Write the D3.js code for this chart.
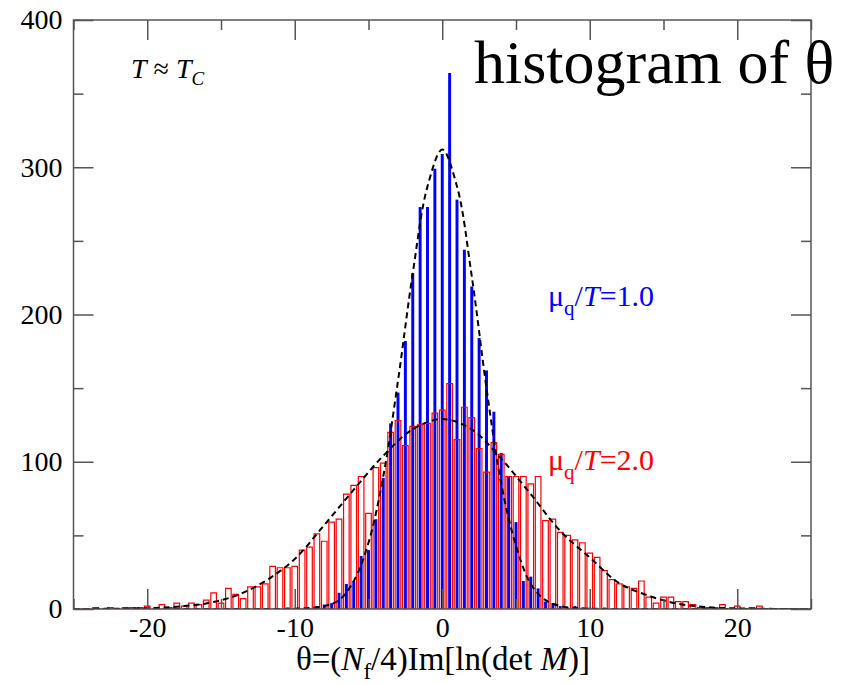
<!DOCTYPE html>
<html>
<head>
<meta charset="utf-8">
<script src="https://cdn.jsdelivr.net/npm/d3@7"></script>
<style>
  body { margin: 0; background: #fff; }
  svg { display: block; }
  text { font-family: "Liberation Serif", "Times New Roman", serif; }
</style>
</head>
<body>
<svg id="chart" width="854" height="684"></svg>
<script>
// Histogram bin centres (theta), shared by both ensembles
const thetaBins = [
  -24.5, -24, -23.5, -23, -22.5, -22, -21.5, -21, -20.5, -20,
  -19.5, -19, -18.5, -18, -17.5, -17, -16.5, -16, -15.5, -15,
  -14.5, -14, -13.5, -13, -12.5, -12, -11.5, -11, -10.5, -10,
  -9.5, -9, -8.5, -8, -7.5, -7, -6.5, -6, -5.5, -5,
  -4.5, -4, -3.5, -3, -2.5, -2, -1.5, -1, -0.5, 0,
  0.5, 1, 1.5, 2, 2.5, 3, 3.5, 4, 4.5, 5,
  5.5, 6, 6.5, 7, 7.5, 8, 8.5, 9, 9.5, 10,
  10.5, 11, 11.5, 12, 12.5, 13, 13.5, 14, 14.5, 15,
  15.5, 16, 16.5, 17, 17.5, 18, 18.5, 19, 19.5, 20,
  20.5, 21, 21.5, 22, 22.5, 23, 23.5, 24, 24.5
];

// mu_q/T = 1.0 counts (filled blue bars)
const countsMu1 = [
  0, 0, 0, 0, 0, 0, 0, 0, 0, 0,
  0, 0, 0, 0, 0, 0, 0, 0, 0, 0,
  0, 0, 0, 0, 0, 0, 0, 0, 1, 0,
  0, 0, 2, 3, 4, 11, 17, 19, 36, 40,
  61, 89, 126, 147, 182, 228, 273, 273, 299, 309,
  364, 278, 244, 219, 184, 162, 134, 106, 90, 59,
  19, 22, 14, 5, 4, 2, 1, 2, 1, 1,
  0, 1, 0, 0, 0, 0, 0, 0, 0, 0,
  0, 0, 0, 0, 0, 0, 0, 0, 0, 0,
  0, 0, 0, 0, 0, 0, 0, 0, 0
];

// mu_q/T = 2.0 counts (open red bars)
const countsMu2 = [
  0, 0, 1, 0, 1, 0, 1, 1, 1, 2,
  0, 3, 1, 4, 2, 4, 3, 6, 11, 4,
  14, 10, 7, 15, 15, 17, 29, 28, 28, 29,
  40, 42, 51, 46, 59, 61, 78, 84, 90, 65,
  96, 99, 120, 128, 111, 124, 125, 126, 133, 135,
  153, 115, 137, 130, 109, 93, 113, 105, 90, 90,
  90, 85, 90, 60, 61, 52, 50, 47, 45, 38,
  35, 26, 20, 17, 15, 14, 19, 8, 4, 8,
  8, 5, 5, 3, 1, 1, 1, 3, 0, 2,
  0, 1, 2, 0, 0, 0, 0, 0, 0
];

// Gaussian fit curves (dashed), sampled along theta
const fitThetaMu1 = [-25, -12, -10, -9, -8, -7, -6, -5, -4, -3, -2, -1, 0, 1, 2, 3, 4, 5, 6, 7, 8, 9, 10, 12, 25];
const fitMu1      = [0, 0, 0.2, 0.6, 2, 6, 19, 45, 90, 155, 228, 287, 312, 287, 226, 150, 85, 43, 17, 6, 2, 0.6, 0.2, 0, 0];
const fitThetaMu2 = [-25, -22, -20, -18, -16, -14, -12, -10, -8, -6, -4, -2, 0, 2, 4, 6, 8, 10, 12, 14, 16, 18, 20, 22, 25];
const fitMu2      = [0, 0.2, 0.6, 1.6, 3.8, 9, 19, 34, 57, 81, 104, 122, 129, 122, 102, 78, 53, 35, 17.5, 9, 3.5, 1.2, 0.4, 0.1, 0];

const xMajor = [-20, -10, 0, 10, 20];
const xMinor = [-25, -15, -5, 5, 15, 25];
const yMajor = [0, 100, 200, 300, 400];
const yMinor = [50, 150, 250, 350];

const svg = d3.select("#chart");
const plot = { left: 73.5, right: 811, top: 20, bottom: 609 };

const x = d3.scaleLinear().domain([-25, 25]).range([plot.left, plot.right]);
const y = d3.scaleLinear().domain([0, 400]).range([plot.bottom, plot.top]);

svg.append("defs").append("clipPath").attr("id", "plotClip")
  .append("rect")
  .attr("x", plot.left).attr("y", plot.top)
  .attr("width", plot.right - plot.left).attr("height", plot.bottom - plot.top);

const marks = svg.append("g").attr("clip-path", "url(#plotClip)");

// filled blue histogram
const blueHalf = 0.1;
marks.append("g").selectAll("rect")
  .data(thetaBins.map((t, i) => ({ t, c: countsMu1[i] })).filter(d => d.c > 0))
  .join("rect")
  .attr("x", d => x(d.t - blueHalf))
  .attr("width", d => x(d.t + blueHalf) - x(d.t - blueHalf))
  .attr("y", d => y(d.c))
  .attr("height", d => y(0) - y(d.c))
  .attr("fill", "#0000ff");

// open red histogram (zero bins still leave a line on the axis)
const redHalf = 0.19;
marks.append("g").selectAll("path")
  .data(thetaBins.map((t, i) => ({ t, c: countsMu2[i] })))
  .join("path")
  .attr("d", d => {
    const x0 = x(d.t - redHalf), x1 = x(d.t + redHalf), y0 = y(0), y1 = y(d.c);
    return `M${x0},${y0}V${y1}H${x1}V${y0}Z`;
  })
  .attr("fill", "none")
  .attr("stroke", "#ff0000")
  .attr("stroke-width", 1.2);

// dashed fit curves
const fitLine = d3.line().x(d => x(d[0])).y(d => y(d[1])).curve(d3.curveCatmullRom);
[[fitThetaMu1, fitMu1], [fitThetaMu2, fitMu2]].forEach(([ts, vs]) => {
  marks.append("path")
    .attr("d", fitLine(ts.map((t, i) => [t, vs[i]])))
    .attr("fill", "none")
    .attr("stroke", "#000")
    .attr("stroke-width", 2)
    .attr("stroke-dasharray", "6,4");
});

// frame
const axisColor = "#555";
svg.append("rect")
  .attr("x", plot.left).attr("y", plot.top)
  .attr("width", plot.right - plot.left).attr("height", plot.bottom - plot.top)
  .attr("fill", "none").attr("stroke", axisColor).attr("stroke-width", 1.5);

function styleAxis(g) {
  g.select(".domain").remove();
  g.selectAll(".tick line").attr("stroke", axisColor).attr("stroke-width", 1.5);
  g.selectAll("text").attr("fill", "#000").style("font-size", "28px")
    .style("font-family", '"Liberation Serif", "Times New Roman", serif');
}
const fmt = d => d3.format("d")(d).replace("−", "-");

svg.append("g").attr("transform", `translate(0,${plot.bottom})`)
  .call(d3.axisBottom(x).tickValues(xMajor).tickSize(-20).tickPadding(8).tickFormat(fmt))
  .call(styleAxis);
svg.append("g").attr("transform", `translate(0,${plot.bottom})`)
  .call(d3.axisBottom(x).tickValues(xMinor).tickSize(-10).tickFormat(""))
  .call(styleAxis);
svg.append("g").attr("transform", `translate(0,${plot.top})`)
  .call(d3.axisTop(x).tickValues(xMajor).tickSize(-20).tickFormat(""))
  .call(styleAxis);
svg.append("g").attr("transform", `translate(0,${plot.top})`)
  .call(d3.axisTop(x).tickValues(xMinor).tickSize(-10).tickFormat(""))
  .call(styleAxis);
svg.append("g").attr("transform", `translate(${plot.left},0)`)
  .call(d3.axisLeft(y).tickValues(yMajor).tickSize(-20).tickPadding(11).tickFormat(fmt))
  .call(styleAxis);
svg.append("g").attr("transform", `translate(${plot.left},0)`)
  .call(d3.axisLeft(y).tickValues(yMinor).tickSize(-10).tickFormat(""))
  .call(styleAxis);
svg.append("g").attr("transform", `translate(${plot.right},0)`)
  .call(d3.axisRight(y).tickValues(yMajor).tickSize(-20).tickFormat(""))
  .call(styleAxis);
svg.append("g").attr("transform", `translate(${plot.right},0)`)
  .call(d3.axisRight(y).tickValues(yMinor).tickSize(-10).tickFormat(""))
  .call(styleAxis);

// axis title
const xt = svg.append("text").attr("x", 443).attr("y", 670)
  .attr("text-anchor", "middle").style("font-size", "33px").attr("fill", "#000");
xt.append("tspan").text("θ=(");
xt.append("tspan").attr("font-style", "italic").text("N");
xt.append("tspan").attr("dy", 9).style("font-size", "23px").text("f");
xt.append("tspan").attr("dy", -9).text("/4)Im[ln(det ");
xt.append("tspan").attr("font-style", "italic").text("M");
xt.append("tspan").text(")]");

// temperature note
const tn = svg.append("text").attr("x", 131).attr("y", 78).style("font-size", "28px").attr("fill", "#000");
tn.append("tspan").attr("font-style", "italic").text("T");
tn.append("tspan").text(" ≈ ");
tn.append("tspan").attr("font-style", "italic").text("T");
tn.append("tspan").attr("font-style", "italic").attr("dy", 7).style("font-size", "19px").text("C");

// title
svg.append("text").attr("x", 474).attr("y", 83).style("font-size", "62px").attr("fill", "#000")
  .text("histogram of θ");

// series labels
function muLabel(yPos, color, value) {
  const t = svg.append("text").attr("x", 548).attr("y", yPos).style("font-size", "30px").attr("fill", color);
  t.append("tspan").text("μ");
  t.append("tspan").attr("dy", 9).style("font-size", "21px").text("q");
  t.append("tspan").attr("dy", -9).text("/");
  t.append("tspan").attr("font-style", "italic").text("T");
  t.append("tspan").text("=" + value);
}
muLabel(306, "#0000ff", "1.0");
muLabel(470, "#ff0000", "2.0");
</script>
</body>
</html>
